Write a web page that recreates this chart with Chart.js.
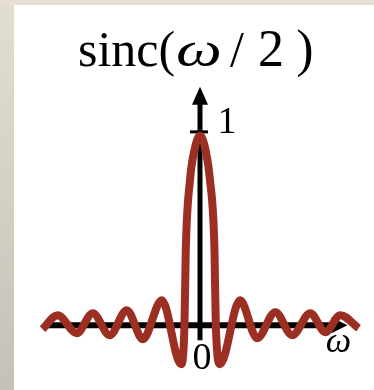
<!DOCTYPE html>
<html>
<head>
<meta charset="utf-8">
<title>sinc</title>
<script src="https://cdn.jsdelivr.net/npm/chart.js@4/dist/chart.umd.min.js"></script>
<style>
  html, body { margin: 0; padding: 0; background: #fff; }
  #wrap { position: relative; width: 374px; height: 390px; overflow: hidden; background: #fff; }
  .edge-left { position: absolute; left: 0; top: 0; width: 14px; height: 390px; background: linear-gradient(#e4ddd2, #c6c1b6); }
  .edge-top { position: absolute; left: 0; top: 0; width: 374px; height: 5px; background: #e5dfd4; }
  #plot { position: absolute; left: 0; top: 0; }
</style>
</head>
<body>
<div id="wrap">
  <div class="edge-left"></div>
  <div class="edge-top"></div>
  <canvas id="plot" width="374" height="390"></canvas>
</div>
<script>
// samples along the curve: omega position and sinc(omega/2) value
const omega = [-59.8, -54.1, -46.8, -40.7, -34.3, -27.8, -21.7, -14.5, -7.2, -5.9, -5.4, -3.8, -2.1, 0,
               2.1, 3.8, 5.5, 6.0, 7.6, 15.2, 21.7, 28.6, 35.0, 41.9, 47.6, 53.3, 60.2];
const sincVals = [-0.021, 0.053, -0.042, 0.063, -0.053, 0.079, -0.074, 0.132, -0.206, 0, 0.397, 0.767, 0.926, 1.0,
                  0.926, 0.767, 0.397, 0, -0.206, 0.132, -0.069, 0.069, -0.053, 0.063, -0.037, 0.053, -0.016];

// axis extents and marks
const xAxisRange = [-58, 56];
const yAxisRange = [-0.08, 1.26];
const yTick = 1;
const tickLabels = { origin: '0', one: '1', axis: 'ω' };

const curveColor = '#9b3022';
const serif = '"Liberation Serif", "DejaVu Serif", serif';

// arrow axes, drawn underneath the curve
const axesPlugin = {
  id: 'arrowAxes',
  beforeDatasetsDraw(chart) {
    const ctx = chart.ctx;
    const xs = chart.scales.x, ys = chart.scales.y;
    const x0 = xs.getPixelForValue(0), y0 = ys.getPixelForValue(0);
    const xl = xs.getPixelForValue(xAxisRange[0]), xr = xs.getPixelForValue(xAxisRange[1]);
    const yb = ys.getPixelForValue(yAxisRange[0]), yt = ys.getPixelForValue(yAxisRange[1]);
    const y1 = ys.getPixelForValue(yTick);

    ctx.save();
    ctx.strokeStyle = '#000';
    ctx.fillStyle = '#000';

    // horizontal axis
    ctx.lineWidth = 6;
    ctx.beginPath();
    ctx.moveTo(xl, y0);
    ctx.lineTo(xr - 14, y0);
    ctx.stroke();
    ctx.beginPath();
    ctx.moveTo(xr, y0);
    ctx.lineTo(xr - 16, y0 - 8);
    ctx.lineTo(xr - 16, y0 + 8);
    ctx.closePath();
    ctx.fill();

    // vertical axis
    ctx.lineWidth = 5;
    ctx.beginPath();
    ctx.moveTo(x0, yb);
    ctx.lineTo(x0, yt + 16);
    ctx.stroke();
    ctx.beginPath();
    ctx.moveTo(x0, yt);
    ctx.lineTo(x0 - 8, yt + 18);
    ctx.lineTo(x0 + 8, yt + 18);
    ctx.closePath();
    ctx.fill();

    // tick at 1
    ctx.lineWidth = 3;
    ctx.beginPath();
    ctx.moveTo(x0 - 10, y1 - 4);
    ctx.lineTo(x0 + 8, y1 - 4);
    ctx.stroke();
    ctx.restore();
  },
  afterDraw(chart) {
    const ctx = chart.ctx;
    const xs = chart.scales.x, ys = chart.scales.y;
    const x0 = xs.getPixelForValue(0), y0 = ys.getPixelForValue(0);
    const y1 = ys.getPixelForValue(yTick);
    const xr = xs.getPixelForValue(xAxisRange[1]);

    ctx.save();
    ctx.fillStyle = '#000';
    ctx.textBaseline = 'alphabetic';
    ctx.textAlign = 'center';

    ctx.font = '38px ' + serif;
    ctx.fillText(tickLabels.one, x0 + 27, y1 - 3);
    ctx.fillText(tickLabels.origin, x0 + 2, y0 + 44);

    ctx.font = 'italic 36px ' + serif;
    ctx.fillText(tickLabels.axis, xr - 9, y0 + 27);

    // title: sinc(ω / 2)
    ctx.font = '50px ' + serif;
    ctx.textAlign = 'left';
    ctx.fillText('sinc(', 78, 66);
    ctx.textAlign = 'center';
    ctx.fillText('/', 237, 66);
    ctx.font = '52px ' + serif;
    ctx.fillText('2', 271, 66);
    ctx.fillText(')', 305, 66);
    // wide italic omega
    ctx.save();
    ctx.translate(199, 66);
    ctx.scale(1.35, 1);
    ctx.font = 'italic 48px ' + serif;
    ctx.fillText('ω', 0, 0);
    ctx.restore();
    ctx.restore();
  }
};

new Chart(document.getElementById('plot'), {
  type: 'line',
  data: {
    datasets: [{
      data: omega.map((w, i) => ({ x: w, y: sincVals[i] })),
      borderColor: curveColor,
      borderWidth: 8,
      borderCapStyle: 'butt',
      borderJoinStyle: 'round',
      pointRadius: 0,
      cubicInterpolationMode: 'monotone',
      clip: false,
      fill: false
    }]
  },
  options: {
    responsive: false,
    animation: false,
    layout: { padding: { left: 42, right: 16, top: 98, bottom: 8 } },
    scales: {
      x: { type: 'linear', min: -60, max: 60, display: false },
      y: { min: -0.3, max: 1.2, display: false }
    },
    plugins: {
      legend: { display: false },
      tooltip: { enabled: false }
    }
  },
  plugins: [axesPlugin]
});
</script>
</body>
</html>
